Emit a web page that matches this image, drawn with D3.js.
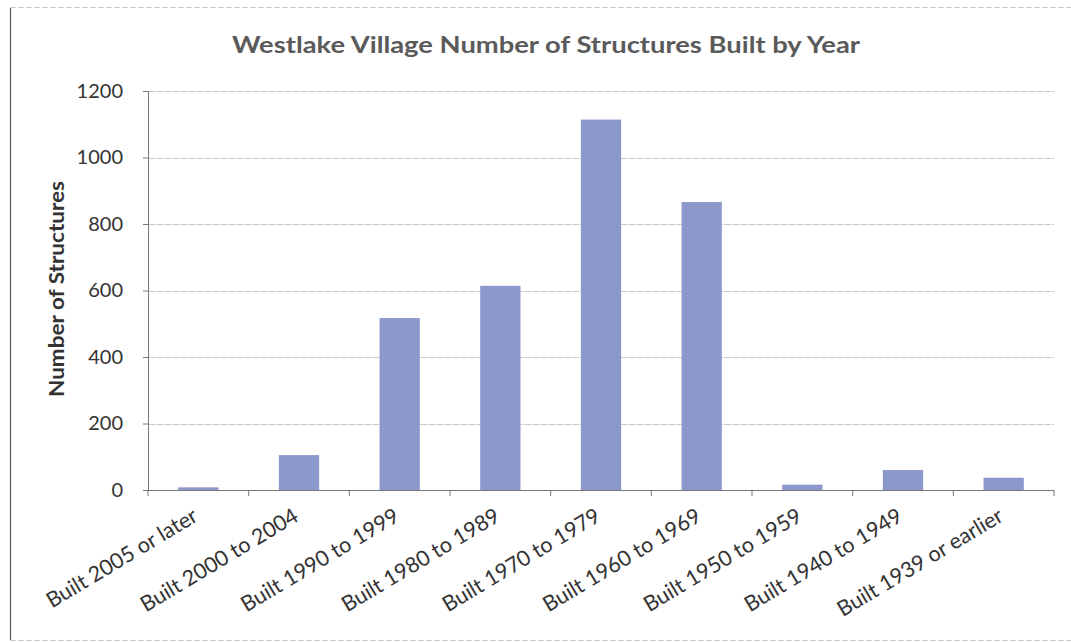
<!DOCTYPE html>
<html>
<head>
<meta charset="utf-8">
<script src="https://cdn.jsdelivr.net/npm/d3@7"></script>
<style>
  html, body { margin: 0; padding: 0; background: #fff; }
  svg { display: block; }
  text { font-family: Lato, "Open Sans", sans-serif; }
</style>
</head>
<body>
<svg id="chart" width="1071" height="643"></svg>
<script>
// Structures built in Westlake Village, by period of construction
const categories = [
  "Built 2005 or later",
  "Built 2000 to 2004",
  "Built 1990 to 1999",
  "Built 1980 to 1989",
  "Built 1970 to 1979",
  "Built 1960 to 1969",
  "Built 1950 to 1959",
  "Built 1940 to 1949",
  "Built 1939 or earlier"
];
const structures = [8, 105, 517, 614, 1114, 866, 16, 60, 37];
const yTicks = [0, 200, 400, 600, 800, 1000, 1200];
const title = "Westlake Village Number of Structures Built by Year";
const yTitle = "Number of Structures";

const svg = d3.select("#chart");
const W = 1071, H = 643;
const plot = { left: 148, right: 1054, top: 91, bottom: 490 };

// outer frame
svg.append("line").attr("x1", 10.5).attr("x2", 10.5).attr("y1", 8).attr("y2", 640)
  .attr("stroke", "#555").attr("stroke-width", 1.2);
svg.append("line").attr("x1", 10).attr("x2", W).attr("y1", 7.5).attr("y2", 7.5)
  .attr("stroke", "#ccc").attr("stroke-width", 1).attr("stroke-dasharray", "6,2");
svg.append("line").attr("x1", 10).attr("x2", W).attr("y1", 640.5).attr("y2", 640.5)
  .attr("stroke", "#ccc").attr("stroke-width", 1).attr("stroke-dasharray", "6,2");

const x = d3.scaleBand().domain(categories).range([plot.left, plot.right]).paddingInner(0.6).paddingOuter(0.3);
const y = d3.scaleLinear().domain([0, 1200]).range([plot.bottom, plot.top]);

// gridlines
svg.append("g").selectAll("line").data(yTicks.filter(d => d > 0)).join("line")
  .attr("x1", plot.left).attr("x2", plot.right)
  .attr("y1", d => Math.round(y(d)) + 0.5).attr("y2", d => Math.round(y(d)) + 0.5)
  .attr("stroke", "#c4c4c4").attr("stroke-width", 0.9).attr("stroke-dasharray", "7,1");

// bars
svg.append("g").selectAll("rect").data(structures).join("rect")
  .attr("x", (d, i) => x(categories[i]))
  .attr("width", x.bandwidth())
  .attr("y", d => y(d))
  .attr("height", d => y(0) - y(d))
  .attr("fill", "#8c97cc");

// y axis
const yAxis = svg.append("g").attr("transform", `translate(${plot.left},0)`)
  .call(d3.axisLeft(y).tickValues(yTicks).tickSize(5).tickPadding(20).tickFormat(d3.format("d")));
yAxis.select(".domain").attr("stroke", "#777");
yAxis.selectAll(".tick line").attr("stroke", "#777");
yAxis.selectAll(".tick text").attr("fill", "#333").style("font-size", "20px")
  .style("font-family", "Lato, sans-serif");

// x axis: boundary ticks between categories
const xAxisG = svg.append("g").attr("transform", `translate(0,${plot.bottom})`);
xAxisG.append("line").attr("x1", plot.left).attr("x2", plot.right).attr("y1", 0.5).attr("y2", 0.5)
  .attr("stroke", "#777");
const bounds = d3.range(categories.length + 1).map(i => plot.left + i * (plot.right - plot.left) / categories.length);
xAxisG.selectAll(".bt").data(bounds).join("line").attr("class", "bt")
  .attr("x1", d => d).attr("x2", d => d).attr("y1", 0).attr("y2", 6).attr("stroke", "#777");

// category labels, rotated
svg.append("g").selectAll("text").data(categories).join("text")
  .attr("transform", d => `translate(${x(d) + x.bandwidth() / 2 + 1},${plot.bottom + 30}) rotate(-31)`)
  .attr("text-anchor", "end")
  .attr("fill", "#333")
  .style("font-size", "21.5px")
  .text(d => d);

// title
svg.append("text").attr("x", 546).attr("y", 53).attr("text-anchor", "middle")
  .attr("fill", "#5a5a5a").style("font-size", "22px").style("font-weight", "bold")
  .attr("textLength", 628).attr("lengthAdjust", "spacingAndGlyphs")
  .text(title);

// y axis title
svg.append("text").attr("transform", `translate(64,289) rotate(-90)`).attr("text-anchor", "middle")
  .attr("fill", "#333").style("font-size", "20px").style("font-weight", "bold")
  .attr("textLength", 216).attr("lengthAdjust", "spacingAndGlyphs")
  .text(yTitle);
</script>
</body>
</html>
